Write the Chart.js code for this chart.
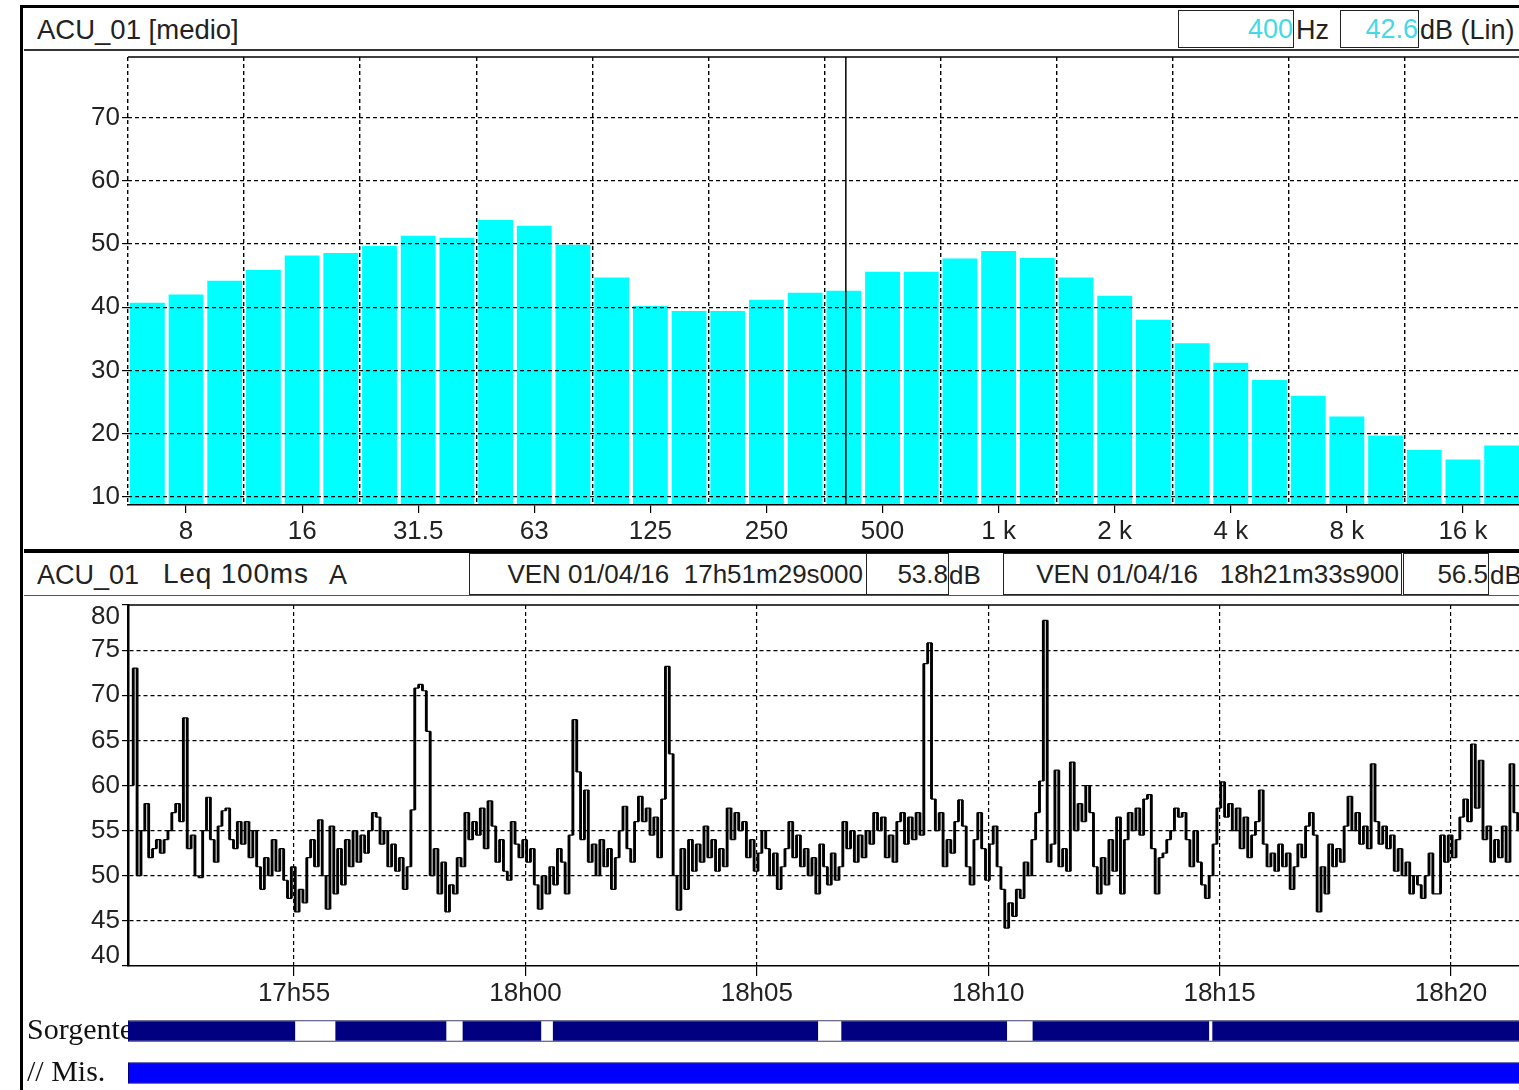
<!DOCTYPE html>
<html>
<head>
<meta charset="utf-8">
<title>ACU_01</title>
<script src="https://cdn.jsdelivr.net/npm/chart.js@4.4.1/dist/chart.umd.min.js"></script>
<style>
  html, body { margin: 0; padding: 0; overflow: hidden; }
  body { width: 1519px; height: 1090px; position: relative; background: #fff;
         font-family: "Liberation Sans", Arial, sans-serif; color: #222; }
  .line { position: absolute; background: #000; }
  .txt { position: absolute; font-size: 26px; line-height: 34px; white-space: pre; }
  .box { position: absolute; box-sizing: border-box; border: 1px solid #222; background: #fff;
         font-size: 26px; text-align: right; white-space: pre; }
  .cy { color: #45d9e8; }
  canvas { position: absolute; }
</style>
</head>
<body>

<div class="line" style="left:20px;top:5px;width:3px;height:1085px"></div>
<div class="line" style="left:20px;top:5px;width:1499px;height:3px"></div>

<div class="txt" style="left:37px;top:13px;font-size:27.5px">ACU_01 [medio]</div>
<div class="box" style="left:1178px;top:10px;width:116px;height:38px;line-height:36px;font-size:27px"><span class="cy" id="cursorFreq"></span></div>
<div class="txt" style="left:1296px;top:13px;font-size:27px">Hz</div>
<div class="box" style="left:1340px;top:10px;width:79px;height:38px;line-height:36px;font-size:27px"><span class="cy" id="cursorLevel"></span></div>
<div class="txt" style="left:1420px;top:13px;font-size:27px">dB (Lin)</div>
<div class="line" style="left:24px;top:49px;width:1495px;height:2px;background:#333"></div>

<canvas id="spectrum" width="1500" height="508" style="left:24px;top:37px"></canvas>

<div class="line" style="left:24px;top:549px;width:1495px;height:4px"></div>
<div class="txt" style="left:37px;top:558px;font-size:27px">ACU_01</div>
<div class="txt" style="left:163px;top:557px;font-size:28px;letter-spacing:0.8px">Leq 100ms</div>
<div class="txt" style="left:329px;top:558px;font-size:27px">A</div>
<div class="box" style="left:469px;top:553px;width:398px;height:42px;line-height:40px;padding-right:3px">VEN 01/04/16  17h51m29s000</div>
<div class="box" style="left:866px;top:553px;width:83px;height:42px;line-height:40px">53.8</div>
<div class="txt" style="left:949px;top:558px">dB</div>
<div class="box" style="left:1003px;top:553px;width:399px;height:42px;line-height:40px;padding-right:2px">VEN 01/04/16   18h21m33s900</div>
<div class="box" style="left:1403px;top:553px;width:86px;height:42px;line-height:40px">56.5</div>
<div class="txt" style="left:1490px;top:558px">dB</div>
<div class="line" style="left:24px;top:595px;width:1495px;height:1px;background:#555"></div>

<canvas id="history" width="1500" height="425" style="left:24px;top:585px"></canvas>
<canvas id="sources" width="1500" height="124" style="left:24px;top:990px"></canvas>

<script>
// 1/3 octave spectrum, averaged
var BAND_LABELS = ["6.3", "8", "10", "12.5", "16", "20", "25", "31.5", "40", "50", "63", "80",
  "100", "125", "160", "200", "250", "315", "400", "500", "630", "800", "1 k", "1.25 k",
  "1.6 k", "2 k", "2.5 k", "3.15 k", "4 k", "5 k", "6.3 k", "8 k", "10 k", "12.5 k", "16 k", "20 k"];
var BAND_LEVELS = [40.7, 42.0, 44.2, 45.9, 48.2, 48.6, 49.7, 51.3, 51.0, 53.8, 52.9, 49.9,
  44.7, 40.2, 39.4, 39.4, 41.2, 42.3, 42.6, 45.6, 45.6, 47.7, 48.9, 47.8,
  44.7, 41.8, 38.0, 34.3, 31.2, 28.5, 26.0, 22.7, 19.7, 17.4, 15.9, 18.1];
var SPECTRUM_TICKS = ["8", "16", "31.5", "63", "125", "250", "500", "1 k", "2 k", "4 k", "8 k", "16 k"];
var SPECTRUM_Y_TICKS = [10, 20, 30, 40, 50, 60, 70];
var CURSOR_BAND = "400";

// Leq 100ms A time history, seconds after 17h00 (17h51m29s .. 18h21m33s)
var LEQ_START = 3089;
var LEQ_STEP = 5;
var LEQ_VALUES = [
  60, 73, 50, 55, 58, 52, 53, 54, 52.5, 54, 55, 57, 58, 56, 67.5, 53, 54.5, 50, 49.8, 55,
  58.7, 54, 51.5, 55.5, 57.2, 57.5, 54, 53, 56, 53.5, 56, 52, 55, 51, 48.5, 52, 50, 54, 50.5, 53,
  49.5, 47.5, 51, 46, 48.5, 47, 52, 54, 51, 56.2, 50, 46.3, 55.5, 48, 53, 49, 54, 51, 55, 51.5,
  54.5, 52.5, 55, 57, 56.5, 53.5, 55, 51, 53.5, 50.5, 52, 48.5, 51, 57.3, 70.8, 71.2, 70.5, 66, 50, 53,
  48, 51.5, 46, 49, 48, 52, 51, 57, 54, 56, 54.5, 57.5, 53, 58.3, 55.5, 51.5, 54, 50.5, 49.5, 56,
  53.5, 52, 54, 51.5, 53, 49, 46.3, 50, 48, 51, 49, 53, 51.5, 48, 54.5, 67.3, 61.5, 54, 59.5, 51.5,
  53.5, 50, 54, 51, 53, 48.5, 52, 55, 57.7, 53, 51.5, 56, 58.8, 56, 57.5, 54.5, 56.5, 52, 58.5, 73.2,
  63.5, 50, 46.2, 53, 48.5, 54, 50.5, 53.5, 51.5, 55.5, 52, 54, 50.5, 53, 51, 57.5, 54, 57, 55, 56,
  52, 54, 50.5, 52.5, 55, 53, 50, 52.5, 48.5, 51, 53, 56, 52, 54.5, 51, 53, 50, 52, 48, 53.5,
  51, 49, 52.5, 49.5, 51, 56, 53, 55, 51.5, 54.5, 52, 55, 53.5, 57, 55, 56.5, 52, 54.5, 51.5, 56,
  57, 53.5, 56.5, 54, 57, 54.5, 73.5, 75.8, 58.5, 55, 57, 51, 54, 52.5, 56, 58.4, 55.5, 51, 49, 54,
  57, 53, 49.5, 53.5, 55.5, 51, 48.5, 44.2, 47, 45.5, 48.5, 47.5, 51.5, 50, 54, 57, 60.5, 78.3, 51.5, 53.5,
  61.7, 51, 53, 50.5, 62.6, 55, 58, 56, 60, 57, 51, 48, 52, 49, 54, 50.5, 56.5, 48, 54, 57,
  55, 57.5, 54.5, 58.5, 59, 53, 48, 52, 52.5, 54, 55, 57.5, 56.5, 57, 54, 51, 55, 51.5, 49, 47.5,
  50, 53.5, 57.5, 60.4, 56.5, 58, 55, 57.5, 53, 56.5, 52, 54.5, 56, 59.5, 53.5, 51, 52.5, 50.5, 53.5, 51,
  52.5, 48.5, 51, 53.5, 52, 55.5, 57, 54.5, 46, 51, 48, 53.5, 51, 53, 51.5, 55.5, 58.8, 55, 57, 53.5,
  55.5, 53, 62.4, 56, 53.5, 55.5, 53, 54.5, 50.5, 53, 50, 51.5, 48, 50, 49, 47.5, 50, 52.5, 48, 48,
  54.5, 51.5, 54.5, 52, 54, 56.5, 58.5, 56, 64.6, 57.5, 62.8, 54, 55.5, 51.5, 54, 52, 55.5, 51.5, 62.4, 57,
  55
];
var HISTORY_MIN = 40;
var HISTORY_MAX = 80;
var HISTORY_STEP = 5;
var TIME_MIN = 3084.7;
var TIME_MAX = 4890.8;
var TIME_TICKS = [3300, 3600, 3900, 4200, 4500, 4800];

// source / measurement markers (start, end in seconds after 17h00)
var SOURCE_ROWS = ["Sorgente", "// Mis."];
var SOURCE_SEGMENTS = [[3085, 3301], [3354, 3497], [3519, 3620], [3636, 3979], [4010, 4224], [4258, 4486], [4491, 4891]];
var SOURCE_SPAN = [[3085, 4891]];
var MEASURE_SEGMENTS = [[3085, 4891]];

var FONT = '"Liberation Sans", Arial, sans-serif';
Chart.defaults.font.family = FONT;
Chart.defaults.font.size = 26;
Chart.defaults.color = "#222";

document.getElementById("cursorFreq").textContent = CURSOR_BAND;
document.getElementById("cursorLevel").textContent =
  BAND_LEVELS[BAND_LABELS.indexOf(CURSOR_BAND)].toFixed(1);

function clockLabel(sec) {
  var h = 17 + Math.floor(sec / 3600);
  var m = Math.floor((sec % 3600) / 60);
  return h + "h" + (m < 10 ? "0" : "") + m;
}

// the range covered between two successive readings, drawn as a filled column
var leqJumps = LEQ_VALUES.slice(0, -1).map(function (v, i) {
  var next = LEQ_VALUES[i + 1];
  return { x: LEQ_START + (i + 0.5) * LEQ_STEP, y: [Math.min(v, next), Math.max(v, next)] };
});

var topBorder = {
  id: "topBorder",
  afterDatasetsDraw: function (chart) {
    var a = chart.chartArea, ctx = chart.ctx;
    ctx.save();
    ctx.strokeStyle = "#000";
    ctx.lineWidth = 1.5;
    ctx.beginPath();
    ctx.moveTo(a.left, a.top);
    ctx.lineTo(a.right, a.top);
    ctx.stroke();
    ctx.restore();
  }
};

var cursorLine = {
  id: "cursorLine",
  afterDatasetsDraw: function (chart) {
    var x = chart.scales.x.getPixelForValue(BAND_LABELS.indexOf(CURSOR_BAND));
    var a = chart.chartArea, ctx = chart.ctx;
    ctx.save();
    ctx.strokeStyle = "#000";
    ctx.lineWidth = 1.5;
    ctx.beginPath();
    ctx.moveTo(x + 2, a.top);
    ctx.lineTo(x + 2, a.bottom);
    ctx.stroke();
    ctx.restore();
  }
};

var edgeLabels = {
  id: "edgeLabels",
  afterDraw: function (chart) {
    var y = chart.scales.y, ctx = chart.ctx;
    ctx.save();
    ctx.font = "26px " + FONT;
    ctx.fillStyle = "#222";
    ctx.textAlign = "right";
    ctx.textBaseline = "top";
    ctx.fillText(String(HISTORY_MAX), y.right - 8, y.getPixelForValue(HISTORY_MAX) - 1);
    ctx.textBaseline = "bottom";
    ctx.fillText(String(HISTORY_MIN), y.right - 8, y.getPixelForValue(HISTORY_MIN) + 3);
    ctx.restore();
  }
};

new Chart(document.getElementById("spectrum"), {
  type: "bar",
  data: {
    labels: BAND_LABELS,
    datasets: [{
      data: BAND_LEVELS,
      backgroundColor: "#00ffff",
      borderWidth: 0,
      barPercentage: 0.9,
      categoryPercentage: 1
    }]
  },
  options: {
    responsive: false,
    animation: false,
    layout: { padding: { top: 20, right: 3, bottom: 0, left: 0 } },
    plugins: { legend: { display: false }, tooltip: { enabled: false } },
    scales: {
      x: {
        type: "category",
        position: "bottom",
        offset: true,
        grid: {
          offset: false,
          drawOnChartArea: false,
          tickLength: 8,
          lineWidth: 1.2,
          color: function (ctx) {
            return SPECTRUM_TICKS.indexOf(BAND_LABELS[ctx.index]) >= 0 ? "#000" : "rgba(0,0,0,0)";
          }
        },
        border: { display: true, color: "#000", width: 1.5, z: 1 },
        ticks: {
          autoSkip: false,
          maxRotation: 0,
          padding: 3,
          callback: function (value, index) {
            var label = BAND_LABELS[index];
            return SPECTRUM_TICKS.indexOf(label) >= 0 ? label : "";
          }
        },
        afterFit: function (scale) { scale.height = 40; }
      },
      xg: {
        type: "category",
        position: "top",
        offset: true,
        grid: {
          offset: true,
          z: 1,
          drawTicks: false,
          lineWidth: 1.4,
          color: function (ctx) {
            return ctx.index % 3 === 0 ? "#000" : "rgba(0,0,0,0)";
          }
        },
        border: { display: false, dash: [4, 3] },
        ticks: { display: false },
        afterFit: function (scale) { scale.height = 0; }
      },
      y: {
        min: 8.7,
        max: 79.6,
        afterBuildTicks: function (scale) {
          scale.ticks = SPECTRUM_Y_TICKS.map(function (v) { return { value: v }; });
        },
        grid: { z: 1, color: "#000", lineWidth: 1.2, tickLength: 6 },
        border: { display: false, dash: [4, 3] },
        ticks: { padding: 2 },
        afterFit: function (scale) { scale.width = 104; }
      }
    }
  },
  plugins: [topBorder, cursorLine]
});

new Chart(document.getElementById("history"), {
  type: "bar",
  data: {
    datasets: [{
      type: "line",
      data: LEQ_VALUES.map(function (v, i) { return { x: LEQ_START + i * LEQ_STEP, y: v }; }),
      borderColor: "#000",
      borderWidth: 1.2,
      pointRadius: 0,
      stepped: "middle",
      fill: false,
      order: 0
    }, {
      type: "bar",
      data: leqJumps,
      backgroundColor: "#000",
      borderWidth: 0,
      barPercentage: 1,
      categoryPercentage: 0.75,
      order: 1
    }]
  },
  options: {
    responsive: false,
    animation: false,
    layout: { padding: { top: 20, right: 3, bottom: 0, left: 0 } },
    plugins: { legend: { display: false }, tooltip: { enabled: false } },
    scales: {
      x: {
        type: "linear",
        offset: false,
        min: TIME_MIN,
        max: TIME_MAX,
        afterBuildTicks: function (scale) {
          scale.ticks = TIME_TICKS.map(function (v) { return { value: v }; });
        },
        grid: { offset: false, color: "#000", lineWidth: 1.2, tickLength: 10 },
        border: { display: true, color: "#000", width: 1.5, dash: [4, 3] },
        ticks: {
          autoSkip: false,
          maxRotation: 0,
          padding: 2,
          callback: function (value) { return clockLabel(value); }
        },
        afterFit: function (scale) { scale.height = 44; }
      },
      y: {
        type: "linear",
        min: HISTORY_MIN,
        max: HISTORY_MAX,
        beginAtZero: false,
        ticks: {
          stepSize: HISTORY_STEP,
          padding: 2,
          callback: function (value) {
            return value === HISTORY_MIN || value === HISTORY_MAX ? "" : value;
          }
        },
        grid: {
          lineWidth: 1.2,
          tickLength: 6,
          tickColor: "#000",
          color: function (ctx) {
            var v = ctx.tick ? ctx.tick.value : null;
            return v === HISTORY_MIN || v === HISTORY_MAX ? "rgba(0,0,0,0)" : "#000";
          }
        },
        border: { display: true, color: "#000", width: 2.5, dash: [4, 3] },
        afterFit: function (scale) { scale.width = 104; }
      }
    }
  },
  plugins: [topBorder, edgeLabels]
});

new Chart(document.getElementById("sources"), {
  type: "bar",
  data: {
    labels: SOURCE_ROWS,
    datasets: [{
      data: SOURCE_SEGMENTS.map(function (s) { return { y: SOURCE_ROWS[0], x: s }; }),
      backgroundColor: "#000080",
      borderWidth: 0,
      grouped: false,
      barThickness: 19,
      order: 0
    }, {
      data: SOURCE_SPAN.map(function (s) { return { y: SOURCE_ROWS[0], x: s }; }),
      backgroundColor: "#ffffff",
      borderColor: "#000040",
      borderWidth: 1,
      borderSkipped: false,
      grouped: false,
      barThickness: 21,
      order: 2
    }, {
      data: MEASURE_SEGMENTS.map(function (s) { return { y: SOURCE_ROWS[1], x: s }; }),
      backgroundColor: "#0000ff",
      borderColor: "#000070",
      borderWidth: 1,
      borderSkipped: false,
      grouped: false,
      barThickness: 21,
      order: 1
    }]
  },
  options: {
    indexAxis: "y",
    responsive: false,
    animation: false,
    layout: { padding: { top: 20, right: 3, bottom: 20, left: 3 } },
    plugins: { legend: { display: false }, tooltip: { enabled: false } },
    scales: {
      x: { type: "linear", min: TIME_MIN, max: TIME_MAX, display: false },
      y: {
        type: "category",
        offset: true,
        grid: { display: false },
        border: { display: false },
        ticks: {
          crossAlign: "far",
          padding: 0,
          color: "#111",
          font: { family: '"Liberation Serif", "Times New Roman", serif', size: 30 }
        },
        afterFit: function (scale) { scale.width = 101; }
      }
    }
  }
});
</script>
</body>
</html>
